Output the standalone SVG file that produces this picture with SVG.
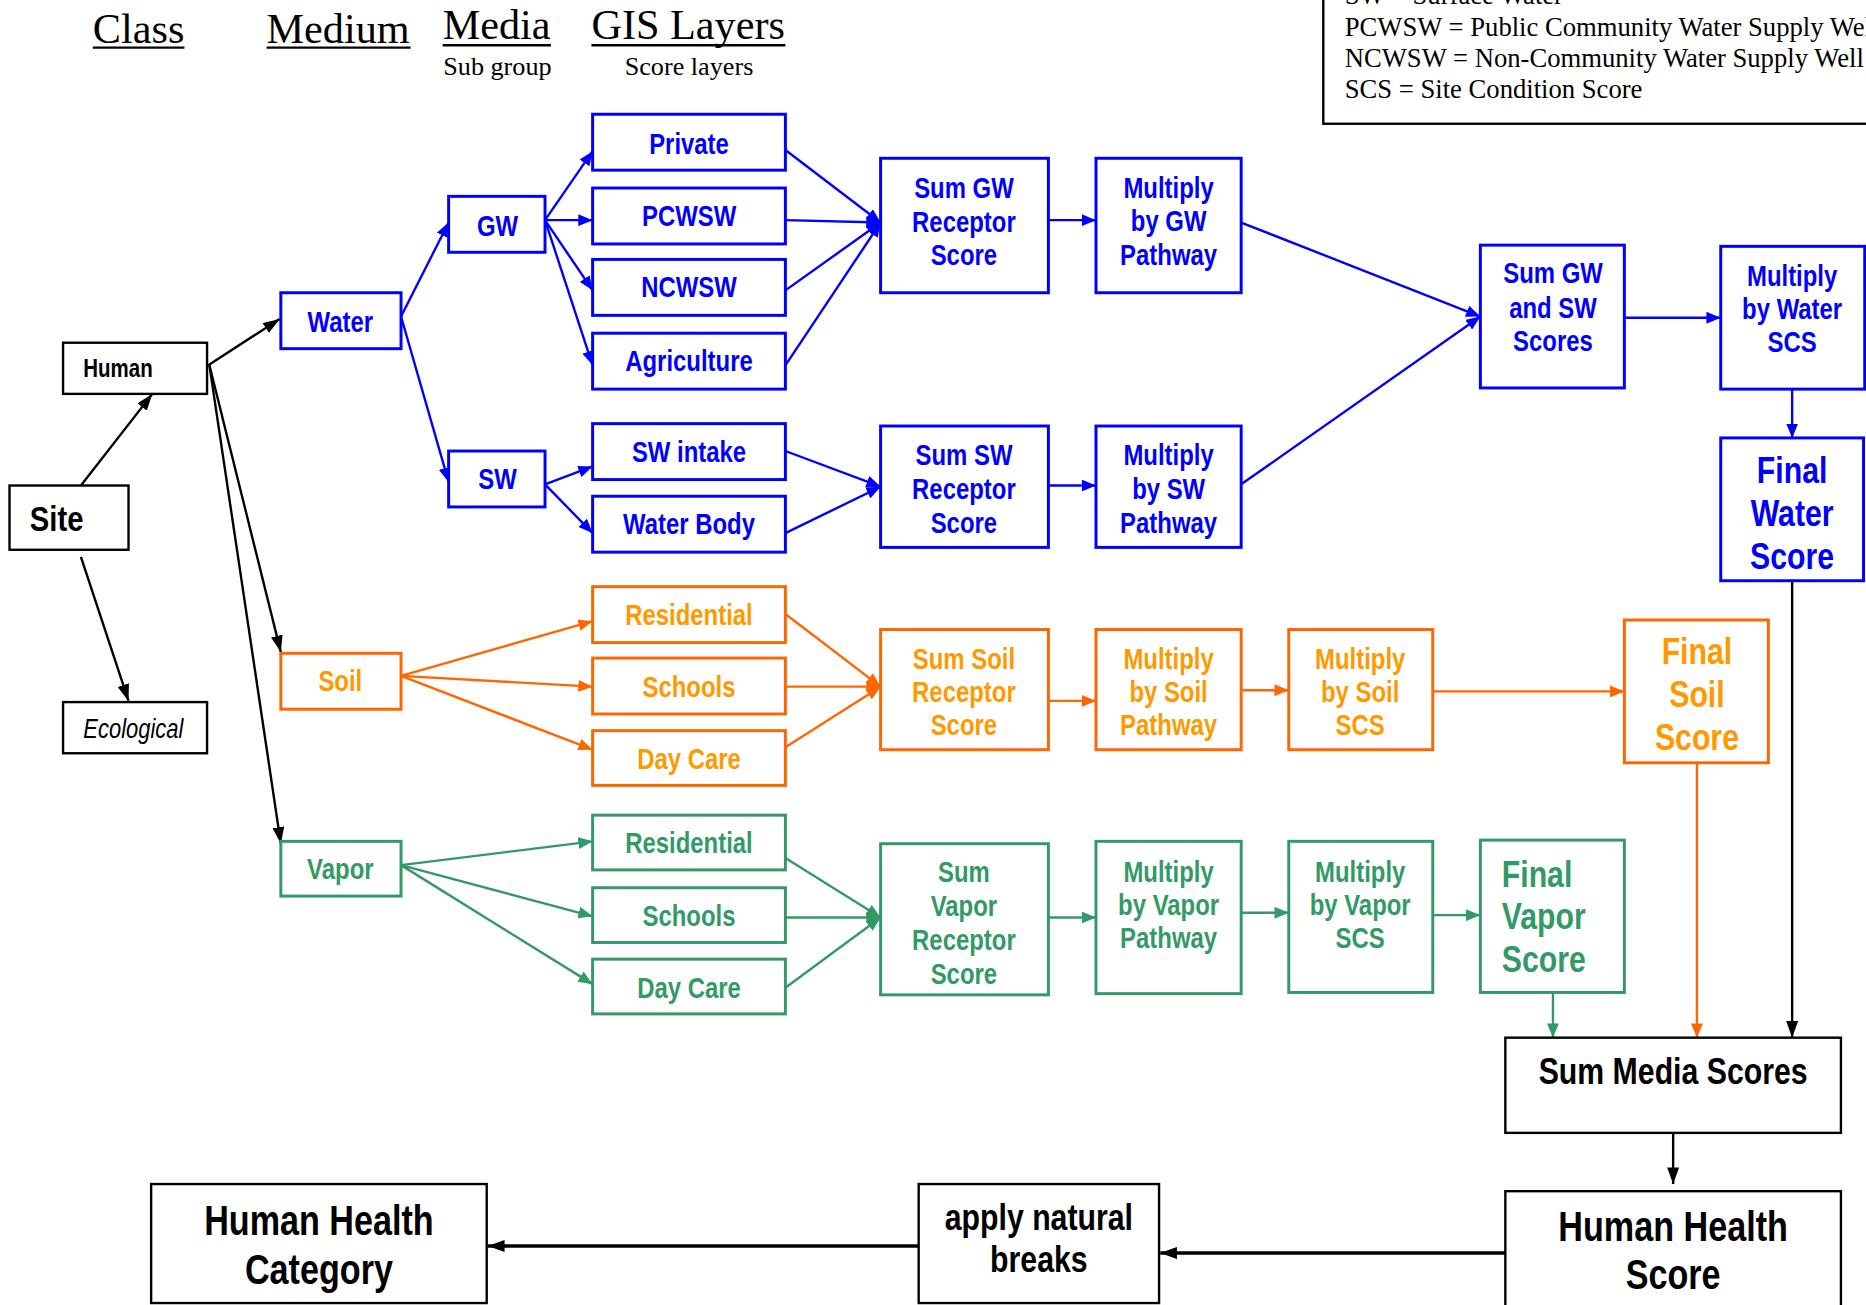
<svg xmlns="http://www.w3.org/2000/svg" width="1866" height="1305" viewBox="0 0 1866 1305">
<style>
.n{font-family:"Liberation Sans",Arial,sans-serif;font-weight:bold;text-anchor:middle;transform-box:fill-box;transform-origin:center;transform:scaleX(0.82)}
.st{text-anchor:start;transform-origin:left center}
.s24{font-size:24.5px}
.s31{font-size:31px}
.hd{font-family:"Liberation Serif","Times New Roman",serif;font-size:35.5px;fill:#000}
.sub{font-family:"Liberation Serif","Times New Roman",serif;font-size:22px;fill:#000;text-anchor:middle}
.lg{font-family:"Liberation Serif","Times New Roman",serif;font-size:22.4px;fill:#000}
.bl rect{fill:#fff;stroke:#0000ff;stroke-width:2.5}
.bl text{fill:#0000ff}
.or rect{fill:#fff;stroke:#ff6600;stroke-width:2.5}
.or text{fill:#ff9900}
.gr rect{fill:#fff;stroke:#339966;stroke-width:2.5}
.gr text{fill:#339966}
.bk rect{fill:#fff;stroke:#000;stroke-width:2}
.bk text{fill:#000}
.cb{stroke:#0000ff;stroke-width:2;fill:none;marker-end:url(#mb)}
.co{stroke:#ff6600;stroke-width:2;fill:none;marker-end:url(#mo)}
.cg{stroke:#339966;stroke-width:2;fill:none;marker-end:url(#mg)}
.ck{stroke:#000;stroke-width:2;fill:none;marker-end:url(#mk)}
.ck3{stroke:#000;stroke-width:3;fill:none;marker-end:url(#mk)}
</style>
<defs>
<marker id="mb" viewBox="0 0 12 10" refX="12" refY="5" markerWidth="12" markerHeight="10" markerUnits="userSpaceOnUse" orient="auto"><path d="M0,0 L12,5 L0,10 z" fill="#0000ff"/></marker>
<marker id="mo" viewBox="0 0 12 10" refX="12" refY="5" markerWidth="12" markerHeight="10" markerUnits="userSpaceOnUse" orient="auto"><path d="M0,0 L12,5 L0,10 z" fill="#ff6600"/></marker>
<marker id="mg" viewBox="0 0 12 10" refX="12" refY="5" markerWidth="12" markerHeight="10" markerUnits="userSpaceOnUse" orient="auto"><path d="M0,0 L12,5 L0,10 z" fill="#339966"/></marker>
<marker id="mk" viewBox="0 0 14 10" refX="14" refY="5" markerWidth="14" markerHeight="10" markerUnits="userSpaceOnUse" orient="auto"><path d="M0,0 L14,5 L0,10 z" fill="#000"/></marker>
</defs>
<rect x="0" y="0" width="1866" height="1305" fill="#fff"/>
<g transform="scale(1.19)">
<g id="headers">
<text class="hd" x="78" y="36">Class</text><line x1="78" y1="40" x2="155" y2="40" stroke="#000" stroke-width="2"/>
<text class="hd" x="224" y="36">Medium</text><line x1="224" y1="40" x2="345" y2="40" stroke="#000" stroke-width="2"/>
<text class="hd" x="372" y="33">Media</text><line x1="372" y1="38" x2="463" y2="38" stroke="#000" stroke-width="2"/>
<text class="sub" x="418" y="63">Sub group</text>
<text class="hd" x="497" y="33">GIS Layers</text><line x1="497" y1="38" x2="660" y2="38" stroke="#000" stroke-width="2"/>
<text class="sub" x="579" y="63">Score layers</text>
</g>
<g id="legend">
<rect x="1112" y="-20" width="520" height="124" fill="#fff" stroke="#000" stroke-width="2"/>
<text class="lg" x="1130" y="3">SW = Surface Water</text>
<text class="lg" x="1130" y="30">PCWSW = Public Community Water Supply Well</text>
<text class="lg" x="1130" y="56">NCWSW = Non-Community Water Supply Well</text>
<text class="lg" x="1130" y="82">SCS = Site Condition Score</text>
</g>
<g id="connectors">
<line class="ck" x1="68" y1="408" x2="128" y2="331"/>
<line class="ck" x1="68" y1="468" x2="108" y2="589"/>
<line class="ck" x1="175" y1="307" x2="235" y2="268"/>
<line class="ck" x1="176" y1="307" x2="236" y2="548"/>
<line class="ck" x1="176" y1="307" x2="236" y2="709"/>
<line class="cb" x1="337" y1="266" x2="377" y2="187"/>
<line class="cb" x1="337" y1="266" x2="377" y2="405"/>
<line class="cb" x1="458" y1="185" x2="498" y2="127"/>
<line class="cb" x1="458" y1="185" x2="498" y2="185"/>
<line class="cb" x1="458" y1="185" x2="498" y2="244"/>
<line class="cb" x1="458" y1="185" x2="498" y2="307"/>
<line class="cb" x1="660" y1="126" x2="740" y2="187"/>
<line class="cb" x1="660" y1="185" x2="740" y2="187"/>
<line class="cb" x1="660" y1="244" x2="740" y2="187"/>
<line class="cb" x1="660" y1="307" x2="740" y2="187"/>
<line class="cb" x1="458" y1="407" x2="498" y2="392"/>
<line class="cb" x1="458" y1="407" x2="498" y2="448"/>
<line class="cb" x1="660" y1="379" x2="740" y2="409"/>
<line class="cb" x1="660" y1="448" x2="740" y2="409"/>
<line class="cb" x1="881" y1="185" x2="921" y2="185"/>
<line class="cb" x1="881" y1="408" x2="921" y2="408"/>
<line class="cb" x1="1043" y1="187" x2="1244" y2="266"/>
<line class="cb" x1="1043" y1="407" x2="1244" y2="266"/>
<line class="cb" x1="1365" y1="267" x2="1446" y2="267"/>
<line class="cb" x1="1506" y1="327" x2="1506" y2="368"/>
<line class="ck" x1="1506" y1="488" x2="1506" y2="872"/>
<line class="co" x1="337" y1="568" x2="498" y2="522"/>
<line class="co" x1="337" y1="568" x2="498" y2="577"/>
<line class="co" x1="337" y1="568" x2="498" y2="630"/>
<line class="co" x1="660" y1="516" x2="740" y2="577"/>
<line class="co" x1="660" y1="577" x2="740" y2="577"/>
<line class="co" x1="660" y1="628" x2="740" y2="577"/>
<line class="co" x1="881" y1="589" x2="921" y2="589"/>
<line class="co" x1="1043" y1="580" x2="1083" y2="580"/>
<line class="co" x1="1204" y1="581" x2="1365" y2="581"/>
<line class="co" x1="1426" y1="641" x2="1426" y2="872"/>
<line class="cg" x1="337" y1="727" x2="498" y2="707"/>
<line class="cg" x1="337" y1="727" x2="498" y2="770"/>
<line class="cg" x1="337" y1="727" x2="498" y2="827"/>
<line class="cg" x1="660" y1="721" x2="740" y2="771"/>
<line class="cg" x1="660" y1="771" x2="740" y2="771"/>
<line class="cg" x1="660" y1="830" x2="740" y2="771"/>
<line class="cg" x1="881" y1="771" x2="921" y2="771"/>
<line class="cg" x1="1043" y1="767" x2="1083" y2="767"/>
<line class="cg" x1="1204" y1="769" x2="1244" y2="769"/>
<line class="cg" x1="1305" y1="834" x2="1305" y2="872"/>
<line class="ck" x1="1406" y1="952" x2="1406" y2="995"/>
<line class="ck3" x1="1265" y1="1053" x2="975" y2="1053"/>
<line class="ck3" x1="772" y1="1047" x2="410" y2="1047"/>
</g>
<g id="site" class="bk"><rect x="8" y="408" width="100" height="54"/><text class="n st" x="25" y="446" style="font-size:30px">Site</text></g>
<g id="human" class="bk"><rect x="53" y="288" width="121" height="43"/><text class="n st" x="70" y="317" style="font-size:21px">Human</text></g>
<g id="ecological" class="bk"><rect x="53" y="590" width="121" height="43"/><text class="n" x="112" y="620" style="font-size:22.5px;font-weight:normal;font-style:italic">Ecological</text></g>
<g id="water" class="bl"><rect x="236" y="246" width="101" height="47"/><text class="n s24" x="286" y="279">Water</text></g>
<g id="gw" class="bl"><rect x="377" y="165" width="81" height="47"/><text class="n s24" x="418" y="198">GW</text></g>
<g id="sw" class="bl"><rect x="377" y="379" width="81" height="47"/><text class="n s24" x="418" y="411">SW</text></g>
<g id="private" class="bl"><rect x="498" y="96" width="162" height="47"/><text class="n s24" x="579" y="129">Private</text></g>
<g id="pcwsw" class="bl"><rect x="498" y="158" width="162" height="47"/><text class="n s24" x="579" y="190">PCWSW</text></g>
<g id="ncwsw" class="bl"><rect x="498" y="218" width="162" height="47"/><text class="n s24" x="579" y="250">NCWSW</text></g>
<g id="agriculture" class="bl"><rect x="498" y="280" width="162" height="47"/><text class="n s24" x="579" y="312">Agriculture</text></g>
<g id="swintake" class="bl"><rect x="498" y="356" width="162" height="47"/><text class="n s24" x="579" y="388">SW intake</text></g>
<g id="waterbody" class="bl"><rect x="498" y="417" width="162" height="47"/><text class="n s24" x="579" y="449">Water Body</text></g>
<g id="sumgw" class="bl"><rect x="740" y="133" width="141" height="113"/><text class="n s24" x="810" y="166">Sum GW</text><text class="n s24" x="810" y="195">Receptor</text><text class="n s24" x="810" y="223">Score</text></g>
<g id="multgw" class="bl"><rect x="921" y="133" width="122" height="113"/><text class="n s24" x="982" y="166">Multiply</text><text class="n s24" x="982" y="194">by GW</text><text class="n s24" x="982" y="223">Pathway</text></g>
<g id="sumsw" class="bl"><rect x="740" y="358" width="141" height="102"/><text class="n s24" x="810" y="391">Sum SW</text><text class="n s24" x="810" y="419">Receptor</text><text class="n s24" x="810" y="448">Score</text></g>
<g id="multsw" class="bl"><rect x="921" y="358" width="122" height="102"/><text class="n s24" x="982" y="391">Multiply</text><text class="n s24" x="982" y="419">by SW</text><text class="n s24" x="982" y="448">Pathway</text></g>
<g id="sumgwsw" class="bl"><rect x="1244" y="206" width="121" height="120"/><text class="n s24" x="1305" y="238">Sum GW</text><text class="n s24" x="1305" y="267">and SW</text><text class="n s24" x="1305" y="295">Scores</text></g>
<g id="multwater" class="bl"><rect x="1446" y="207" width="121" height="120"/><text class="n s24" x="1506" y="240">Multiply</text><text class="n s24" x="1506" y="268">by Water</text><text class="n s24" x="1506" y="296">SCS</text></g>
<g id="finalwater" class="bl"><rect x="1446" y="368" width="120" height="120"/><text class="n s31" x="1506" y="406">Final</text><text class="n s31" x="1506" y="442">Water</text><text class="n s31" x="1506" y="478">Score</text></g>
<g id="soil" class="or"><rect x="236" y="549" width="101" height="47"/><text class="n s24" x="286" y="581">Soil</text></g>
<g id="soilres" class="or"><rect x="498" y="493" width="162" height="47"/><text class="n s24" x="579" y="525">Residential</text></g>
<g id="soilsch" class="or"><rect x="498" y="553" width="162" height="47"/><text class="n s24" x="579" y="586">Schools</text></g>
<g id="soildc" class="or"><rect x="498" y="614" width="162" height="46"/><text class="n s24" x="579" y="646">Day Care</text></g>
<g id="sumsoil" class="or"><rect x="740" y="529" width="141" height="101"/><text class="n s24" x="810" y="562">Sum Soil</text><text class="n s24" x="810" y="590">Receptor</text><text class="n s24" x="810" y="618">Score</text></g>
<g id="multsoilpath" class="or"><rect x="921" y="529" width="122" height="101"/><text class="n s24" x="982" y="562">Multiply</text><text class="n s24" x="982" y="590">by Soil</text><text class="n s24" x="982" y="618">Pathway</text></g>
<g id="multsoilscs" class="or"><rect x="1083" y="529" width="121" height="101"/><text class="n s24" x="1143" y="562">Multiply</text><text class="n s24" x="1143" y="590">by Soil</text><text class="n s24" x="1143" y="618">SCS</text></g>
<g id="finalsoil" class="or"><rect x="1365" y="521" width="121" height="120"/><text class="n s31" x="1426" y="558">Final</text><text class="n s31" x="1426" y="594">Soil</text><text class="n s31" x="1426" y="630">Score</text></g>
<g id="vapor" class="gr"><rect x="236" y="707" width="101" height="46"/><text class="n s24" x="286" y="739">Vapor</text></g>
<g id="vapres" class="gr"><rect x="498" y="685" width="162" height="46"/><text class="n s24" x="579" y="717">Residential</text></g>
<g id="vapsch" class="gr"><rect x="498" y="746" width="162" height="46"/><text class="n s24" x="579" y="778">Schools</text></g>
<g id="vapdc" class="gr"><rect x="498" y="806" width="162" height="46"/><text class="n s24" x="579" y="839">Day Care</text></g>
<g id="sumvapor" class="gr"><rect x="740" y="709" width="141" height="127"/><text class="n s24" x="810" y="741">Sum</text><text class="n s24" x="810" y="770">Vapor</text><text class="n s24" x="810" y="798">Receptor</text><text class="n s24" x="810" y="827">Score</text></g>
<g id="multvappath" class="gr"><rect x="921" y="707" width="122" height="128"/><text class="n s24" x="982" y="741">Multiply</text><text class="n s24" x="982" y="769">by Vapor</text><text class="n s24" x="982" y="797">Pathway</text></g>
<g id="multvapscs" class="gr"><rect x="1083" y="707" width="121" height="127"/><text class="n s24" x="1143" y="741">Multiply</text><text class="n s24" x="1143" y="769">by Vapor</text><text class="n s24" x="1143" y="797">SCS</text></g>
<g id="finalvapor" class="gr"><rect x="1244" y="706" width="121" height="128"/><text class="n s31 st" x="1262" y="745">Final</text><text class="n s31 st" x="1262" y="781">Vapor</text><text class="n s31 st" x="1262" y="817">Score</text></g>
<g id="summedia" class="bk"><rect x="1265" y="872" width="282" height="80"/><text class="n s31" x="1406" y="911">Sum Media Scores</text></g>
<g id="hhscore" class="bk"><rect x="1265" y="1001" width="282" height="120"/><text class="n" x="1406" y="1043" style="font-size:35px">Human Health</text><text class="n" x="1406" y="1083" style="font-size:35px">Score</text></g>
<g id="breaks" class="bk"><rect x="772" y="995" width="202" height="100"/><text class="n s31" x="873" y="1034">apply natural</text><text class="n s31" x="873" y="1069">breaks</text></g>
<g id="hhcat" class="bk"><rect x="127" y="995" width="282" height="100"/><text class="n" x="268" y="1038" style="font-size:35px">Human Health</text><text class="n" x="268" y="1079" style="font-size:35px">Category</text></g>
</g>
</svg>
